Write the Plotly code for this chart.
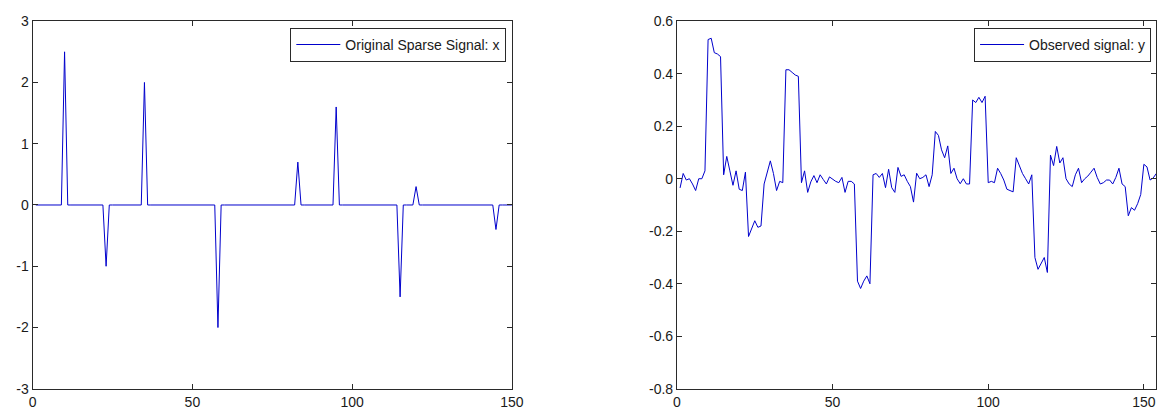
import plotly.graph_objects as go

# ---------------- data ----------------
N_X = 150
spike_pos = [10, 23, 35, 58, 83, 95, 115, 120, 145]
spike_val = [2.5, -1.0, 2.0, -2.0, 0.7, 1.6, -1.5, 0.3, -0.4]

x_idx = list(range(1, N_X + 1))
x_sig = [0.0] * N_X
for p, v in zip(spike_pos, spike_val):
    x_sig[p - 1] = v

y_obs = [
    -0.035, 0.02, -0.005, 0.0, -0.02, -0.045, 0.0, 0.0, 0.03, 0.53,          # 1-10
    0.535, 0.48, 0.475, 0.465, 0.015, 0.085, 0.03, -0.025, 0.03, -0.04,      # 11-20
    -0.045, 0.025, -0.22, -0.19, -0.16, -0.185, -0.18, -0.02, 0.03, 0.068,   # 21-30
    0.02, -0.045, -0.01, -0.015, 0.415, 0.415, 0.405, 0.395, 0.39, -0.015,   # 31-40
    0.03, -0.052, -0.012, 0.012, -0.015, 0.015, -0.003, -0.02, 0.007, -0.003,  # 41-50
    -0.01, -0.015, 0.005, -0.052, -0.01, -0.01, -0.02, -0.39, -0.418, -0.39,   # 51-60
    -0.37, -0.40, 0.015, 0.02, 0.005, 0.02, -0.034, 0.036, -0.034, -0.052,     # 61-70
    0.043, 0.009, 0.015, -0.01, -0.03, -0.089, 0.021, 0.0, 0.005, 0.015,       # 71-80
    -0.03, 0.015, 0.18, 0.165, 0.11, 0.08, 0.125, 0.02, 0.04, 0.0,             # 81-90
    -0.019, 0.0, -0.02, -0.02, 0.30, 0.29, 0.31, 0.29, 0.314, -0.015,          # 91-100
    -0.01, -0.015, 0.04, 0.02, -0.005, -0.04, -0.045, -0.05, 0.08, 0.05,       # 101-110
    0.02, 0.0, -0.02, 0.015, -0.3, -0.345, -0.32, -0.30, -0.357, 0.09,         # 111-120
    0.05, 0.123, 0.06, 0.08, 0.0, -0.02, -0.03, 0.015, 0.04, -0.015,           # 121-130
    0.0, 0.01, 0.025, 0.04, 0.005, -0.02, -0.015, -0.005, -0.005, -0.02,       # 131-140
    0.005, 0.04, -0.02, -0.03, -0.141, -0.11, -0.12, -0.095, -0.06, 0.055,     # 141-150
    0.045, -0.005, 0.003, 0.02,                                                # 151-154
]
y_idx = list(range(1, len(y_obs) + 1))

x_ticks = [0, 50, 100, 150]
x_ticktext = ["0", "50", "100", "150"]
left_yticks = [-3, -2, -1, 0, 1, 2, 3]
left_yticktext = ["-3", "-2", "-1", "0", "1", "2", "3"]
right_yticks = [-0.8, -0.6, -0.4, -0.2, 0, 0.2, 0.4, 0.6]
right_yticktext = ["-0.8", "-0.6", "-0.4", "-0.2", "0", "0.2", "0.4", "0.6"]

# ---------------- figure ----------------
W, H = 1168, 417
LINE_COLOR = "#0000cc"
AX_COLOR = "#2a2a2a"
FONT = "Arial, Liberation Sans, Helvetica, sans-serif"

fig = go.Figure()
fig.add_trace(go.Scatter(
    x=x_idx, y=x_sig, mode="lines", name="Original Sparse Signal: x",
    line=dict(color=LINE_COLOR, width=1), xaxis="x", yaxis="y", legend="legend",
))
fig.add_trace(go.Scatter(
    x=y_idx, y=y_obs, mode="lines", name="Observed signal: y",
    line=dict(color=LINE_COLOR, width=1), xaxis="x2", yaxis="y2", legend="legend2",
))

y_dom = [(H - 396) / H, (H - 13.7) / H]

common_axis = dict(
    showline=True, linecolor=AX_COLOR, linewidth=1, mirror="ticks",
    ticks="inside", ticklen=5, tickwidth=1, tickcolor=AX_COLOR,
    showgrid=False, zeroline=False,
    tickfont=dict(family=FONT, size=14, color="#1a1a1a"),
)

fig.update_layout(
    width=W, height=H,
    margin=dict(l=0, r=0, t=0, b=0),
    paper_bgcolor="white", plot_bgcolor="white",
    font=dict(family=FONT, color="#1a1a1a"),
    xaxis=dict(domain=[29 / W, 515 / W], range=[0, 150], anchor="y",
               tickvals=x_ticks, ticktext=x_ticktext, **common_axis),
    yaxis=dict(domain=y_dom, range=[-3, 3], anchor="x",
               tickvals=left_yticks, ticktext=left_yticktext, **common_axis),
    xaxis2=dict(domain=[682.3 / W, 1.0], range=[0, 153.9], anchor="y2",
                tickvals=x_ticks, ticktext=x_ticktext, **common_axis),
    yaxis2=dict(domain=y_dom, range=[-0.8, 0.6], anchor="x2",
                tickvals=right_yticks, ticktext=right_yticktext, **common_axis),
    legend=dict(
        x=509.3 / W, y=(H - 20.7) / H, xanchor="right", yanchor="top",
        bgcolor="white", bordercolor=AX_COLOR, borderwidth=1,
        font=dict(family=FONT, size=14, color="#1a1a1a"),
        itemwidth=44, tracegroupgap=0,
    ),
    legend2=dict(
        x=1163 / W, y=(H - 20.7) / H, xanchor="right", yanchor="top",
        bgcolor="white", bordercolor=AX_COLOR, borderwidth=1,
        font=dict(family=FONT, size=14, color="#1a1a1a"),
        itemwidth=44, tracegroupgap=0,
    ),
    showlegend=True,
)

fig.write_html("out.html")
